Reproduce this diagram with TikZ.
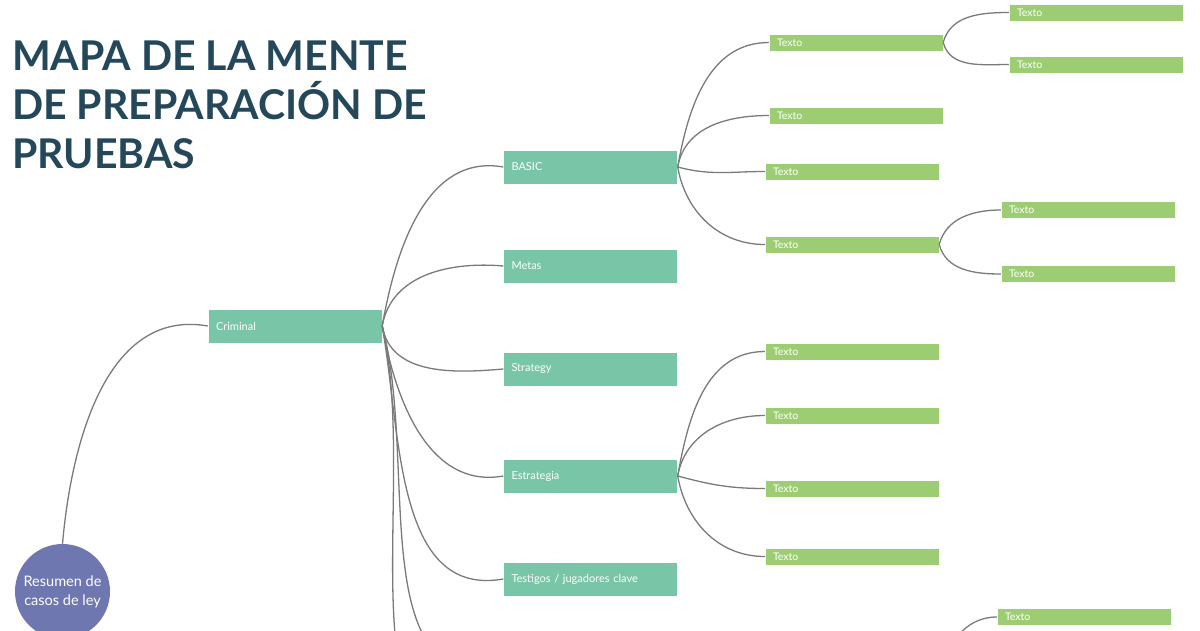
\documentclass[tikz,border=0pt]{standalone}
\usepackage{fontspec}
\setmainfont{Lato}
\usepackage{tikz}
\usetikzlibrary{positioning,calc}
\definecolor{titleblue}{HTML}{24475A}
\definecolor{topicgreen}{HTML}{78C6A7}
\definecolor{leafgreen}{HTML}{9CCD72}
\definecolor{rootblue}{HTML}{6E77B0}
\definecolor{linegray}{HTML}{7A7A7A}

\begin{document}
\begin{tikzpicture}
[x=1pt,y=1pt,
 topic/.style={rectangle,fill=topicgreen,draw=white,text=white,minimum height=34pt,text width=158pt,inner xsep=8pt,align=left,font=\fontsize{11}{13}\selectfont},
 leaf/.style={rectangle,fill=leafgreen,draw=white,text=white,minimum height=17pt,text width=158pt,inner xsep=8pt,inner ysep=0pt,align=left,font=\fontsize{10.5}{12}\selectfont},
 root/.style={circle,fill=rootblue,text=white,minimum size=95pt,inner sep=0pt,align=center,font=\fontsize{14.5}{19}\selectfont},
 link/.style={draw=linegray,line width=1.3pt}]
\useasboundingbox (0,0) rectangle (1200,-630);
\clip (0,0) rectangle (1200,-630);
\draw (12,-168) node[anchor=base west,inner sep=0pt,text=titleblue,align=left,font=\fontsize{41}{49}\selectfont\bfseries] (title) {MAPA DE LA MENTE\\DE PREPARACIÓN DE\\PRUEBAS};
\draw (62.5,-591.5) node[root] (law) {Resumen de\\casos de ley};
\draw (295,-326) node[topic] (crim) {Criminal};
\draw (590.5,-167) node[topic] (basic) {BASIC};
\draw (590.5,-266) node[topic] (metas) {Metas};
\draw (590.5,-369) node[topic] (strat) {Strategy};
\draw (590.5,-476) node[topic] (estr) {Estrategia};
\draw (590.5,-579) node[topic] (test) {Testigos / jugadores clave};
\coordinate (crimx) at (503,-670);
\coordinate (crimy) at (503,-750);
\draw (856,-42.5) node[leaf] (ba) {Texto};
\draw (856,-115.5) node[leaf] (bb) {Texto};
\draw (852,-171.5) node[leaf] (bc) {Texto};
\draw (852,-244.5) node[leaf] (bd) {Texto};
\draw (1096,-12.5) node[leaf] (baa) {Texto};
\draw (1096,-64.5) node[leaf] (bab) {Texto};
\draw (1088,-210) node[leaf] (bda) {Texto};
\draw (1088,-274) node[leaf] (bdb) {Texto};
\draw (852,-351.5) node[leaf] (ea) {Texto};
\draw (852,-415.5) node[leaf] (eb) {Texto};
\draw (852,-488.5) node[leaf] (ec) {Texto};
\draw (852,-556.5) node[leaf] (ed) {Texto};
\coordinate (hid) at (939,-680);
\draw (1084,-617) node[leaf] (hida) {Texto};
\draw[link] (law.north) to[out=85,in=170] (crim.west);
\draw[link] (crim.east) to[out=80,in=170] (basic.west);
\draw[link] (crim.east) to[out=80,in=175] (metas.west);
\draw[link] (crim.east) to[out=-80,in=185] (strat.west);
\draw[link] (crim.east) to[out=-80,in=190] (estr.west);
\draw[link] (crim.east) to[out=-80,in=190] (test.west);
\draw[link] (crim.east) to[out=-75,in=190] (crimx);
\draw[link] (crim.east) to[out=-77,in=190] (crimy);
\draw[link] (basic.east) to[out=80,in=180] (ba.west);
\draw[link] (basic.east) to[out=80,in=180] (bb.west);
\draw[link] (basic.east) to[out=-15,in=180] (bc.west);
\draw[link] (basic.east) to[out=-80,in=180] (bd.west);
\draw[link] (ba.east) to[out=75,in=180] (baa.west);
\draw[link] (ba.east) to[out=-75,in=180] (bab.west);
\draw[link] (bd.east) to[out=75,in=180] (bda.west);
\draw[link] (bd.east) to[out=-75,in=180] (bdb.west);
\draw[link] (estr.east) to[out=80,in=180] (ea.west);
\draw[link] (estr.east) to[out=80,in=180] (eb.west);
\draw[link] (estr.east) to[out=-15,in=180] (ec.west);
\draw[link] (estr.east) to[out=-80,in=180] (ed.west);
\draw[link] (hid) to[out=80,in=180] (hida.west);
\end{tikzpicture}
\end{document}
